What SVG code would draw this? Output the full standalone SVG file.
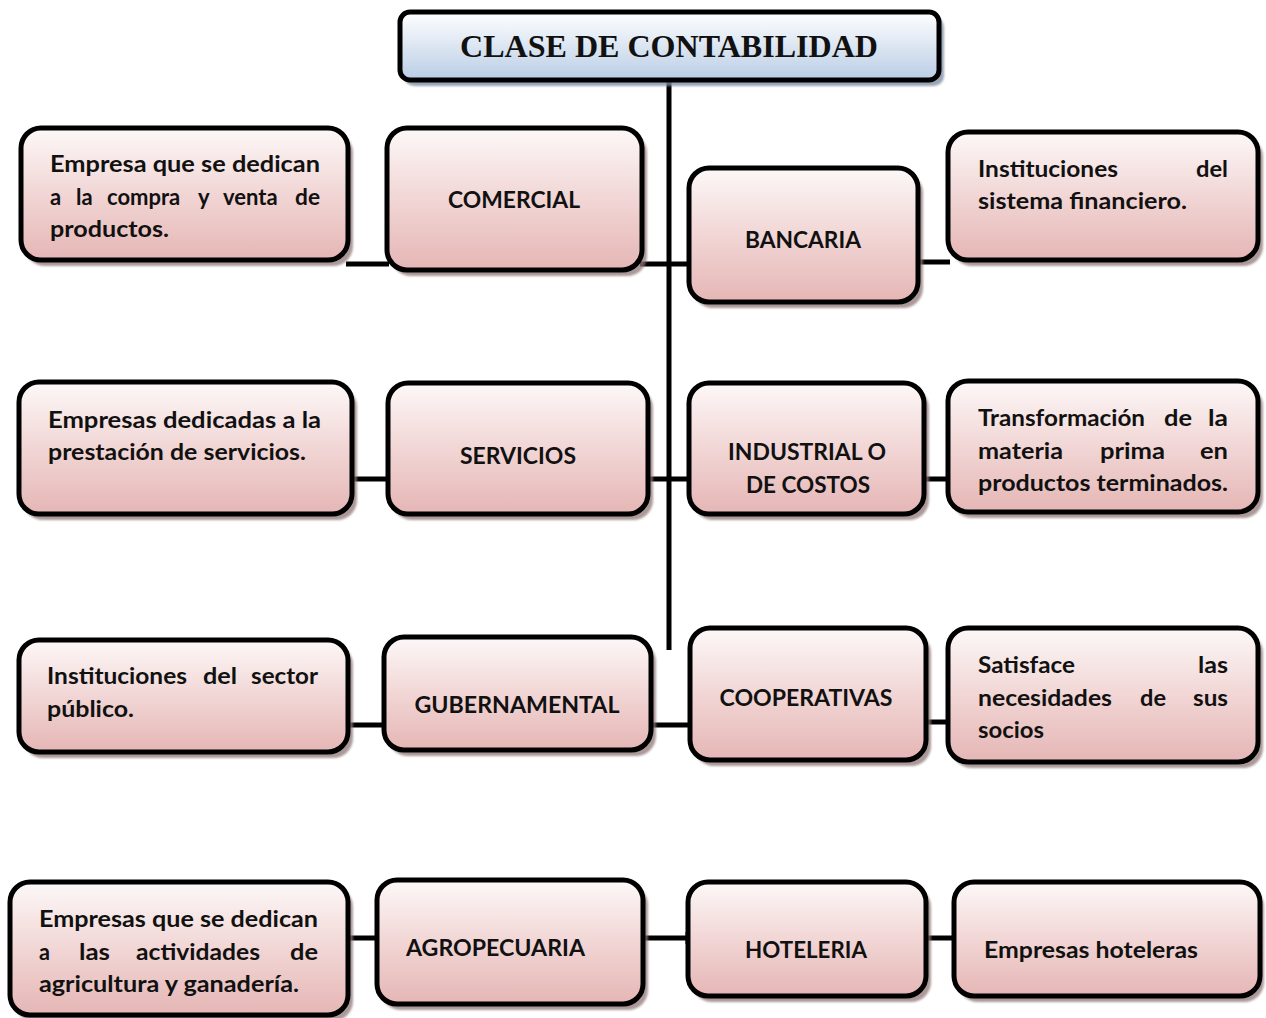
<svg xmlns="http://www.w3.org/2000/svg" width="1266" height="1018" viewBox="0 0 1266 1018">
<defs>
<linearGradient id="pink" x1="0" y1="0" x2="0" y2="1">
<stop offset="0" stop-color="#fdf8f8"/>
<stop offset="0.5" stop-color="#f1d6d5"/>
<stop offset="1" stop-color="#e5b6b5"/>
</linearGradient>
<linearGradient id="blue" x1="0" y1="0" x2="0" y2="1">
<stop offset="0" stop-color="#ffffff"/>
<stop offset="0.5" stop-color="#dce6f2"/>
<stop offset="1" stop-color="#b9cde5"/>
</linearGradient>
<filter id="blur" x="-5%" y="-5%" width="110%" height="110%"><feGaussianBlur stdDeviation="1.2"/></filter>
</defs>
<style>
.box{fill:url(#pink);stroke:#000;stroke-width:5}
.sh{fill:#8f7676;opacity:0.75;filter:url(#blur)}
.shb{fill:#7f8fa3;opacity:0.8;filter:url(#blur)}
.t{font-family:Lato,"Open Sans","Liberation Sans",sans-serif;font-weight:700;font-size:22px;fill:#111}
.ttl{font-family:"Liberation Serif","Times New Roman",serif;font-weight:700;font-size:31px;fill:#111}
.c{stroke:#000;stroke-width:5;fill:none}
</style>
<rect width="1266" height="1018" fill="#fff"/>

<g id="connectors">
<line class="c" x1="669" y1="80" x2="669" y2="650" stroke-width="5.5"/>
<line class="c" x1="346" y1="264" x2="389" y2="264"/>
<line class="c" x1="640" y1="264" x2="691" y2="264"/>
<line class="c" x1="916" y1="262" x2="950" y2="262"/>
<line class="c" x1="350" y1="479" x2="390" y2="479"/>
<line class="c" x1="646" y1="479" x2="691" y2="479"/>
<line class="c" x1="914" y1="479" x2="950" y2="479"/>
<line class="c" x1="346" y1="725" x2="386" y2="725"/>
<line class="c" x1="649" y1="725" x2="692" y2="725"/>
<line class="c" x1="918" y1="722" x2="950" y2="722"/>
<line class="c" x1="346" y1="938" x2="385" y2="938"/>
<line class="c" x1="383" y1="932" x2="383" y2="944"/>
<line class="c" x1="641" y1="938" x2="690" y2="938"/>
<line class="c" x1="688" y1="932" x2="688" y2="944"/>
<line class="c" x1="924" y1="938" x2="956" y2="938"/>
</g>

<g id="title">
<rect class="shb" x="404" y="17" width="540" height="69" rx="10"/>
<rect x="400" y="12" width="539" height="68" rx="10" fill="url(#blue)" stroke="#000" stroke-width="5"/>
<text class="ttl" x="669" y="57" text-anchor="middle" textLength="418" lengthAdjust="spacingAndGlyphs">CLASE DE CONTABILIDAD</text>
</g>

<g id="desc-comercial">
<rect class="sh" x="25" y="133" width="328" height="133" rx="20"/>
<rect class="box" x="21" y="128" width="327" height="132" rx="20"/>
<text class="t" x="50" y="172" textLength="270" lengthAdjust="spacingAndGlyphs">Empresa que se dedican</text>
<text class="t" y="205"><tspan x="50">a</tspan><tspan x="76">la</tspan><tspan x="107">compra</tspan><tspan x="198">y</tspan><tspan x="223">venta</tspan><tspan x="295" textLength="25" lengthAdjust="spacingAndGlyphs">de</tspan></text>
<text class="t" x="50" y="237" textLength="119" lengthAdjust="spacingAndGlyphs">productos.</text>
</g>

<g id="comercial">
<rect class="sh" x="391" y="133" width="256" height="143" rx="20"/>
<rect class="box" x="387" y="128" width="255" height="142" rx="20"/>
<text class="t" x="514" y="208" text-anchor="middle" textLength="132" lengthAdjust="spacingAndGlyphs">COMERCIAL</text>
</g>

<g id="bancaria">
<rect class="sh" x="693" y="173" width="230" height="135" rx="20"/>
<rect class="box" x="689" y="168" width="229" height="134" rx="20"/>
<text class="t" x="803" y="248" text-anchor="middle" textLength="116" lengthAdjust="spacingAndGlyphs">BANCARIA</text>
</g>

<g id="desc-bancaria">
<rect class="sh" x="952" y="137" width="311" height="129" rx="20"/>
<rect class="box" x="948" y="132" width="310" height="128" rx="20"/>
<text class="t" y="177"><tspan x="978" textLength="140" lengthAdjust="spacingAndGlyphs">Instituciones</tspan><tspan x="1196" textLength="32" lengthAdjust="spacingAndGlyphs">del</tspan></text>
<text class="t" x="978" y="209" textLength="209" lengthAdjust="spacingAndGlyphs">sistema financiero.</text>
</g>

<g id="desc-servicios">
<rect class="sh" x="23" y="387" width="334" height="133" rx="20"/>
<rect class="box" x="19" y="382" width="333" height="132" rx="20"/>
<text class="t" x="48" y="428" textLength="273" lengthAdjust="spacingAndGlyphs">Empresas dedicadas a la</text>
<text class="t" x="48" y="460" textLength="258" lengthAdjust="spacingAndGlyphs">prestación de servicios.</text>
</g>

<g id="servicios">
<rect class="sh" x="392" y="388" width="261" height="132" rx="20"/>
<rect class="box" x="388" y="383" width="260" height="131" rx="20"/>
<text class="t" x="518" y="464" text-anchor="middle" textLength="116" lengthAdjust="spacingAndGlyphs">SERVICIOS</text>
</g>

<g id="industrial">
<rect class="sh" x="693" y="388" width="236" height="132" rx="20"/>
<rect class="box" x="689" y="383" width="235" height="131" rx="20"/>
<text class="t" x="807" y="460" text-anchor="middle" textLength="158" lengthAdjust="spacingAndGlyphs">INDUSTRIAL O</text>
<text class="t" x="808" y="493" text-anchor="middle" textLength="124" lengthAdjust="spacingAndGlyphs">DE COSTOS</text>
</g>

<g id="desc-industrial">
<rect class="sh" x="952" y="386" width="311" height="132" rx="20"/>
<rect class="box" x="948" y="381" width="310" height="131" rx="20"/>
<text class="t" y="426"><tspan x="978" textLength="167" lengthAdjust="spacingAndGlyphs">Transformación</tspan><tspan x="1164" textLength="28" lengthAdjust="spacingAndGlyphs">de</tspan><tspan x="1208" textLength="20" lengthAdjust="spacingAndGlyphs">la</tspan></text>
<text class="t" y="459"><tspan x="978" textLength="85" lengthAdjust="spacingAndGlyphs">materia</tspan><tspan x="1100" textLength="65" lengthAdjust="spacingAndGlyphs">prima</tspan><tspan x="1200" textLength="28" lengthAdjust="spacingAndGlyphs">en</tspan></text>
<text class="t" x="978" y="491" textLength="250" lengthAdjust="spacingAndGlyphs">productos terminados.</text>
</g>

<g id="desc-gubernamental">
<rect class="sh" x="23" y="645" width="330" height="113" rx="20"/>
<rect class="box" x="19" y="640" width="329" height="112" rx="20"/>
<text class="t" y="684"><tspan x="47" textLength="140" lengthAdjust="spacingAndGlyphs">Instituciones</tspan><tspan x="203" textLength="34" lengthAdjust="spacingAndGlyphs">del</tspan><tspan x="251" textLength="67" lengthAdjust="spacingAndGlyphs">sector</tspan></text>
<text class="t" x="47" y="717" textLength="87" lengthAdjust="spacingAndGlyphs">público.</text>
</g>

<g id="gubernamental">
<rect class="sh" x="388" y="642" width="268" height="114" rx="20"/>
<rect class="box" x="384" y="637" width="267" height="113" rx="20"/>
<text class="t" x="517" y="713" text-anchor="middle" textLength="205" lengthAdjust="spacingAndGlyphs">GUBERNAMENTAL</text>
</g>

<g id="cooperativas">
<rect class="sh" x="694" y="633" width="237" height="133" rx="20"/>
<rect class="box" x="690" y="628" width="236" height="132" rx="20"/>
<text class="t" x="806" y="706" text-anchor="middle" textLength="173" lengthAdjust="spacingAndGlyphs">COOPERATIVAS</text>
</g>

<g id="desc-cooperativas">
<rect class="sh" x="952" y="633" width="311" height="135" rx="20"/>
<rect class="box" x="948" y="628" width="310" height="134" rx="20"/>
<text class="t" y="673"><tspan x="978" textLength="97" lengthAdjust="spacingAndGlyphs">Satisface</tspan><tspan x="1198" textLength="30" lengthAdjust="spacingAndGlyphs">las</tspan></text>
<text class="t" y="706"><tspan x="978" textLength="134" lengthAdjust="spacingAndGlyphs">necesidades</tspan><tspan x="1140" textLength="26" lengthAdjust="spacingAndGlyphs">de</tspan><tspan x="1193" textLength="35" lengthAdjust="spacingAndGlyphs">sus</tspan></text>
<text class="t" x="978" y="738" textLength="66" lengthAdjust="spacingAndGlyphs">socios</text>
</g>

<g id="desc-agropecuaria">
<rect class="sh" x="14" y="887" width="339" height="134" rx="20"/>
<rect class="box" x="10" y="882" width="338" height="133" rx="20"/>
<text class="t" x="39" y="927" textLength="279" lengthAdjust="spacingAndGlyphs">Empresas que se dedican</text>
<text class="t" y="960"><tspan x="39" textLength="11" lengthAdjust="spacingAndGlyphs">a</tspan><tspan x="79" textLength="31" lengthAdjust="spacingAndGlyphs">las</tspan><tspan x="136" textLength="124" lengthAdjust="spacingAndGlyphs">actividades</tspan><tspan x="290" textLength="28" lengthAdjust="spacingAndGlyphs">de</tspan></text>
<text class="t" x="39" y="992" textLength="260" lengthAdjust="spacingAndGlyphs">agricultura y ganadería.</text>
</g>

<g id="agropecuaria">
<rect class="sh" x="381" y="885" width="267" height="125" rx="20"/>
<rect class="box" x="377" y="880" width="266" height="124" rx="20"/>
<text class="t" x="406" y="956" textLength="179" lengthAdjust="spacingAndGlyphs">AGROPECUARIA</text>
</g>

<g id="hoteleria">
<rect class="sh" x="692" y="887" width="239" height="115" rx="20"/>
<rect class="box" x="688" y="882" width="238" height="114" rx="20"/>
<text class="t" x="806" y="958" text-anchor="middle" textLength="122" lengthAdjust="spacingAndGlyphs">HOTELERIA</text>
</g>

<g id="desc-hoteleria">
<rect class="sh" x="958" y="887" width="306" height="115" rx="20"/>
<rect class="box" x="954" y="882" width="306" height="114" rx="20"/>
<text class="t" x="984" y="958" textLength="214" lengthAdjust="spacingAndGlyphs">Empresas hoteleras</text>
</g>
</svg>
